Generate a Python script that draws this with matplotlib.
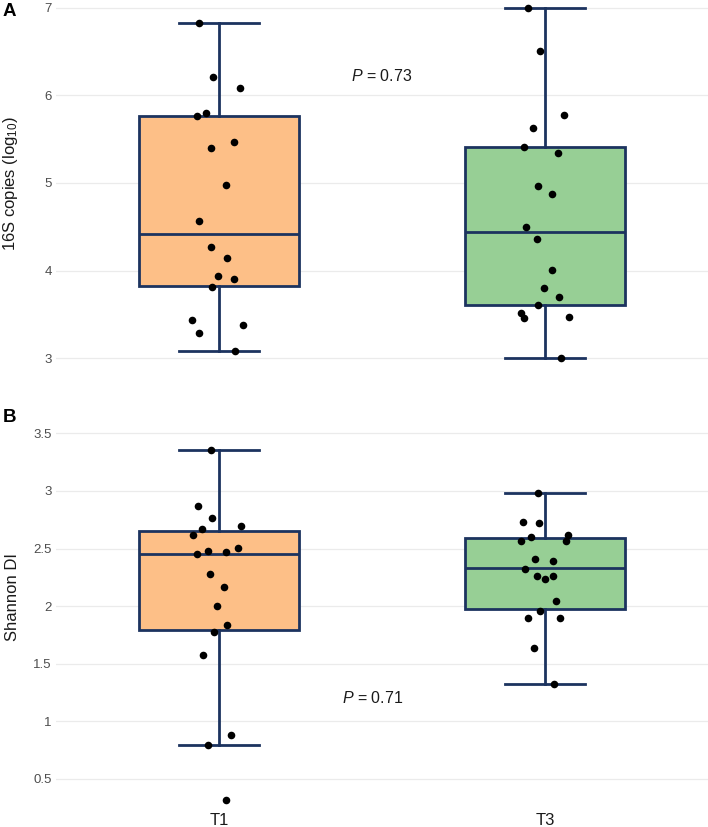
import matplotlib
matplotlib.use("Agg")
import matplotlib.pyplot as plt

plt.rcParams['font.family'] = ['Liberation Sans', 'DejaVu Sans']
plt.rcParams['mathtext.fontset'] = 'custom'
plt.rcParams['mathtext.rm'] = 'Liberation Sans'
plt.rcParams['mathtext.it'] = 'Liberation Sans:italic'

groups = ["T1", "T3"]

# Panel A: 16S copies (log10)
a_t1 = [6.825, 6.216, 6.087, 5.805, 5.767, 5.467, 5.398, 4.976, 4.568, 4.272,
        4.146, 3.940, 3.903, 3.815, 3.438, 3.378, 3.282, 3.080]
a_t1_jit = [-0.061, -0.018, 0.064, -0.040, -0.067, 0.046, -0.025, 0.021, -0.060, -0.025,
            0.024, -0.003, 0.045, -0.022, -0.082, 0.074, -0.062, 0.048]
a_t3 = [7.000, 6.509, 5.779, 5.627, 5.410, 5.348, 4.968, 4.873, 4.500, 4.363,
        4.009, 3.800, 3.701, 3.606, 3.510, 3.461, 3.469, 3.000]
a_t3_jit = [-0.053, -0.016, 0.057, -0.038, -0.064, 0.041, -0.022, 0.020, -0.058, -0.025,
            0.023, -0.004, 0.043, -0.021, -0.074, -0.064, 0.073, 0.049]
# box stats: whislo, q1, med, q3, whishi
a_box_t1 = [3.08, 3.82, 4.42, 5.767, 6.825]
a_box_t3 = [3.00, 3.61, 4.435, 5.41, 7.00]
a_yticks = [3, 4, 5, 6, 7]
a_ytick_labels = ["3", "4", "5", "6", "7"]
a_p_text = "$P$ = 0.73"

# Panel B: Shannon DI
b_t1 = [3.353, 2.869, 2.765, 2.693, 2.667, 2.621, 2.508, 2.479, 2.470, 2.451,
        2.280, 2.164, 2.000, 1.835, 1.779, 1.580, 0.881, 0.794, 0.317]
b_t1_jit = [-0.026, -0.063, -0.022, 0.066, -0.051, -0.081, 0.058, -0.034, 0.021, -0.067,
            -0.029, 0.015, -0.006, 0.026, -0.016, -0.048, 0.036, -0.035, 0.021]
b_t3 = [2.985, 2.728, 2.719, 2.603, 2.621, 2.566, 2.563, 2.412, 2.390, 2.326,
        2.265, 2.239, 2.260, 2.048, 1.956, 1.901, 1.896, 1.635, 1.323]
b_t3_jit = [-0.022, -0.067, -0.017, -0.043, 0.070, -0.075, 0.063, -0.031, 0.024, -0.060,
            -0.025, -0.001, 0.024, 0.035, -0.015, -0.051, 0.046, -0.034, 0.029]
b_box_t1 = [0.794, 1.797, 2.451, 2.655, 3.353]
b_box_t3 = [1.323, 1.979, 2.329, 2.595, 2.985]
b_yticks = [0.5, 1, 1.5, 2, 2.5, 3, 3.5]
b_ytick_labels = ["0.5", "1", "1.5", "2", "2.5", "3", "3.5"]
b_p_text = "$P$ = 0.71"

fills = ["#fdbf87", "#97cf95"]
edge = "#1c335f"

W, H = 708, 827
fig = plt.figure(figsize=(W / 100, H / 100), dpi=100)

axA = fig.add_axes([56 / W, 1 - 368 / H, 652 / W, 368 / H])
axB = fig.add_axes([56 / W, 1 - 807 / H, 652 / W, 382 / H])


def stats_of(s, label):
    return dict(whislo=s[0], q1=s[1], med=s[2], q3=s[3], whishi=s[4], label=label, fliers=[])


def draw(ax, boxes, vals, jits, yticks, ylabels, ylim, ylabel, ptext, pxy, lbl_y, show_x):
    bx = ax.bxp([stats_of(b, g) for b, g in zip(boxes, groups)], positions=[1, 2],
                widths=0.49, patch_artist=True, showfliers=False,
                boxprops=dict(linewidth=2.0, edgecolor=edge),
                medianprops=dict(color=edge, linewidth=2.0),
                whiskerprops=dict(color=edge, linewidth=2.0),
                capprops=dict(color=edge, linewidth=2.0),
                capwidths=0.245, zorder=2)
    for patch, c in zip(bx['boxes'], fills):
        patch.set_facecolor(c)
    for i, (v, j) in enumerate(zip(vals, jits)):
        ax.scatter([i + 1 + d for d in j], v, s=30, color='black', zorder=3, linewidths=0)
    ax.set_xlim(0.5, 2.5)
    ax.set_ylim(*ylim)
    ax.set_yticks(yticks)
    ax.set_yticklabels(ylabels)
    ax.set_xticks([1, 2])
    if show_x:
        ax.set_xticklabels(groups)
    else:
        ax.set_xticklabels([])
    ax.tick_params(axis='both', length=0)
    ax.tick_params(axis='y', pad=3, labelsize=9.5, labelcolor='#4d4d4d')
    ax.tick_params(axis='x', pad=4, labelsize=12, labelcolor='#1a1a1a')
    ax.grid(axis='y', color='#ebebeb', linewidth=0.9, zorder=0)
    ax.set_axisbelow(True)
    for sp in ax.spines.values():
        sp.set_visible(False)
    ax.set_ylabel(ylabel, fontsize=12, color='#1a1a1a')
    ax.yaxis.set_label_coords(-0.055, lbl_y)
    ax.text(pxy[0], pxy[1], ptext, ha='center', va='center', fontsize=11.5, color='#1a1a1a')


draw(axA, [a_box_t1, a_box_t3], [a_t1, a_t3], [a_t1_jit, a_t3_jit], a_yticks, a_ytick_labels,
     (2.886, 7.091), "16S copies (log$_{10}$)", a_p_text, (1.50, 6.22), 0.50, False)
draw(axB, [b_box_t1, b_box_t3], [b_t1, b_t3], [b_t1_jit, b_t3_jit], b_yticks, b_ytick_labels,
     (0.257, 3.572), "Shannon DI", b_p_text, (1.47, 1.20), 0.55, True)

fig.text(3 / W, 1 - 12 / H, "A", fontsize=13.5, fontweight='bold', ha='left', va='center')
fig.text(3 / W, 1 - 417 / H, "B", fontsize=13.5, fontweight='bold', ha='left', va='center')

fig.savefig("out.png", dpi=100)
